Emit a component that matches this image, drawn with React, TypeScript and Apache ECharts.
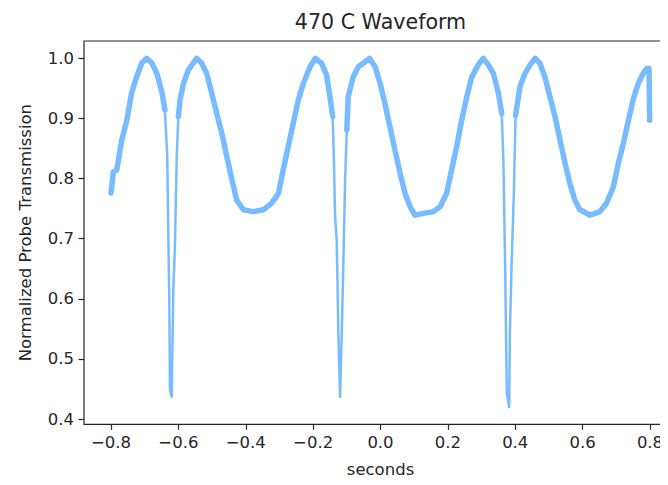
import React, { useEffect, useRef } from "react";
import * as echarts from "echarts";

// Time (seconds) and normalized probe transmission
const times = [
  -0.800, -0.793, -0.783, -0.768, -0.753, -0.739, -0.724, -0.709, -0.694, -0.679,
  -0.664, -0.649, -0.640, -0.633, -0.630, -0.627, -0.625, -0.620, -0.615, -0.610,
  -0.605, -0.600, -0.595, -0.585, -0.570, -0.556, -0.546, -0.531, -0.516, -0.501,
  -0.486, -0.471, -0.456, -0.441, -0.427, -0.407, -0.378, -0.348, -0.323, -0.303,
  -0.289, -0.274, -0.259, -0.244, -0.229, -0.209, -0.194, -0.175, -0.160, -0.150,
  -0.142, -0.138, -0.135, -0.130, -0.125, -0.120, -0.115, -0.110, -0.105, -0.100,
  -0.096, -0.081, -0.066, -0.046, -0.033, -0.016, -0.001, 0.013, 0.028, 0.043,
  0.058, 0.073, 0.088, 0.102, 0.127, 0.157, 0.177, 0.196, 0.211, 0.226,
  0.241, 0.256, 0.271, 0.290, 0.305, 0.320, 0.335, 0.350, 0.360, 0.365,
  0.370, 0.375, 0.382, 0.384, 0.389, 0.396, 0.401, 0.414, 0.429, 0.444,
  0.459, 0.473, 0.488, 0.503, 0.518, 0.533, 0.548, 0.562, 0.577, 0.592,
  0.622, 0.651, 0.671, 0.691, 0.706, 0.721, 0.736, 0.750, 0.765, 0.780,
  0.790, 0.797, 0.799,
];
const transmission = [
  0.776, 0.811, 0.814, 0.864, 0.897, 0.942, 0.969, 0.992, 1.000, 0.992,
  0.975, 0.944, 0.914, 0.836, 0.709, 0.598, 0.448, 0.437, 0.615, 0.692,
  0.836, 0.903, 0.931, 0.958, 0.981, 0.992, 1.000, 0.992, 0.975, 0.942,
  0.908, 0.875, 0.836, 0.798, 0.764, 0.748, 0.745, 0.748, 0.759, 0.775,
  0.814, 0.853, 0.892, 0.931, 0.958, 0.986, 1.000, 0.992, 0.972, 0.936,
  0.903, 0.825, 0.740, 0.698, 0.543, 0.437, 0.543, 0.665, 0.800, 0.881,
  0.936, 0.969, 0.986, 0.994, 1.000, 0.986, 0.958, 0.925, 0.886, 0.847,
  0.809, 0.775, 0.753, 0.739, 0.742, 0.745, 0.753, 0.775, 0.814, 0.853,
  0.897, 0.936, 0.969, 0.989, 1.000, 0.989, 0.975, 0.942, 0.908, 0.825,
  0.653, 0.443, 0.420, 0.543, 0.653, 0.780, 0.905, 0.953, 0.975, 0.989,
  1.000, 0.992, 0.969, 0.936, 0.903, 0.864, 0.825, 0.792, 0.764, 0.748,
  0.739, 0.745, 0.759, 0.786, 0.825, 0.859, 0.897, 0.931, 0.958, 0.975,
  0.983, 0.983, 0.897,
];
// Narrow absorption dips, drawn with the thin stroke only
const dipWindows = [
  [-0.636, -0.604],
  [-0.139, -0.101],
  [0.363, 0.400],
];
const xTickValues = [-0.8, -0.6, -0.4, -0.2, 0.0, 0.2, 0.4, 0.6, 0.8];

const TITLE = "470 C Waveform";
const X_NAME = "seconds";
const Y_NAME = "Normalized Probe Transmission";

const FONT = "'DejaVu Sans', sans-serif";
const LINE_COLOR = "#78bcff";
const INK = "#262626";

export default function App() {
  const ref = useRef<HTMLDivElement>(null);

  useEffect(() => {
    if (!ref.current) return;
    const chart = echarts.init(ref.current, null, { renderer: "svg" });

    const allPts = times.map((t, i) => [t, transmission[i]]);
    const inDip = (t: number) => dipWindows.some(([a, b]) => t > a && t < b);
    const bandPts = times.map((t, i) => (inDip(t) ? [t, null] : [t, transmission[i]]));

    const boxLeft = 84;
    const boxTop = 41;
    const boxRight = 677;
    const boxBottom = 424.3;

    chart.setOption({
      animation: false,
      backgroundColor: "#ffffff",
      grid: { left: 111, right: 18, top: 58.3, bottom: 66, containLabel: false },
      xAxis: {
        type: "value",
        min: xTickValues[0],
        max: xTickValues[xTickValues.length - 1],
        interval: 0.2,
        offset: 5.3,
        axisLine: { show: false, onZero: false },
        axisTick: { show: true, inside: false, length: 5.5, lineStyle: { color: INK, width: 1.2 } },
        splitLine: { show: false },
        axisLabel: {
          margin: 10,
          fontFamily: FONT,
          fontSize: 16.5,
          color: INK,
          formatter: (v: number) =>
            Math.abs(v) < 1e-9 ? "0.0" : (v < 0 ? "\u2212" : "") + Math.abs(v).toFixed(1),
        },
      },
      yAxis: {
        type: "value",
        min: 0.4,
        max: 1.0,
        interval: 0.1,
        offset: 27,
        axisLine: { show: false, onZero: false },
        axisTick: { show: true, inside: false, length: 5.5, lineStyle: { color: INK, width: 1.2 } },
        splitLine: { show: false },
        axisLabel: {
          margin: 10,
          fontFamily: FONT,
          fontSize: 16.5,
          color: INK,
          formatter: (v: number) => v.toFixed(1),
        },
      },
      graphic: [
        {
          type: "rect",
          z: 100,
          shape: { x: boxLeft, y: boxTop, width: boxRight - boxLeft, height: boxBottom - boxTop },
          style: { fill: "none", stroke: INK, lineWidth: 1.2 },
          silent: true,
        },
        {
          type: "text",
          x: (boxLeft + boxRight) / 2,
          y: 22,
          style: {
            text: TITLE,
            font: `20.6px ${FONT}`,
            fill: INK,
            align: "center",
            verticalAlign: "middle",
          },
        },
        {
          type: "text",
          x: (boxLeft + boxRight) / 2,
          y: 469,
          style: {
            text: X_NAME,
            font: `16.5px ${FONT}`,
            fill: INK,
            align: "center",
            verticalAlign: "middle",
          },
        },
        {
          type: "text",
          x: 25,
          y: (boxTop + boxBottom) / 2,
          rotation: Math.PI / 2,
          style: {
            text: Y_NAME,
            font: `16.5px ${FONT}`,
            fill: INK,
            align: "center",
            verticalAlign: "middle",
          },
        },
      ],
      series: [
        {
          type: "line",
          data: allPts,
          showSymbol: false,
          clip: false,
          lineStyle: { color: LINE_COLOR, width: 2.5, join: "round" },
        },
        {
          type: "line",
          data: bandPts,
          showSymbol: false,
          clip: false,
          connectNulls: false,
          lineStyle: { color: LINE_COLOR, width: 5.5, join: "round", cap: "round" },
        },
      ],
    });

    return () => chart.dispose();
  }, []);

  return <div ref={ref} style={{ width: 668, height: 485, margin: -8 }} />;
}
